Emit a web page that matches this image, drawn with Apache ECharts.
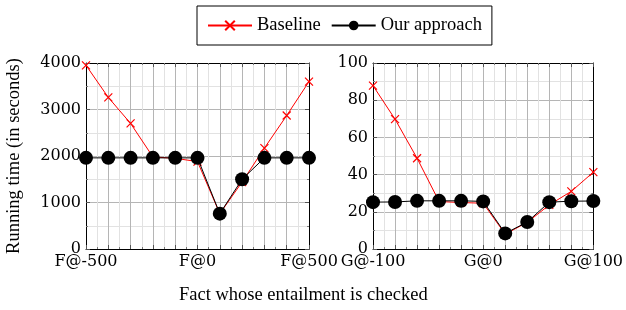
<!DOCTYPE html>
<html><head><meta charset="utf-8">
<script src="https://cdn.jsdelivr.net/npm/echarts@6/dist/echarts.min.js"></script>
<style>html,body{margin:0;padding:0;background:#fff}#c{width:626px;height:310px}</style>
</head><body><div id="c"></div>
<script>
// Left panel (F)
const fX = [-500,-400,-300,-200,-100,0,100,200,300,400,500];
const fBaseline = [3950,3260,2700,1980,1950,1880,760,1440,2170,2870,3600];
const fOurs = [1960,1960,1960,1960,1960,1960,760,1500,1960,1960,1960];
const fTickLabels = [-500,0,500];
// Right panel (G)
const gX = [-100,-80,-60,-40,-20,0,20,40,60,80,100];
const gBaseline = [87.8,69.8,48.8,25.5,25.0,24.6,8.0,14.3,23.7,31.0,41.3];
const gOurs = [25.2,25.3,25.9,25.9,25.9,25.6,8.4,14.5,25.2,25.7,25.8];
const gTickLabels = [-100,0,100];
const seriesNames = ['Baseline','Our approach'];
const yName = 'Running time (in seconds)';
const xName = 'Fact whose entailment is checked';

const tickFont = {fontFamily:'DejaVu Serif', fontSize:16, color:'#000'};
const textFont = 'Liberation Serif';
const majorC = '#b5b5b5', minorC = '#e2e2e2';

function pairs(xs, ys){ return xs.map((x,i)=>[x, ys[i]]); }
const lineBlack = {show:true, onZero:false, lineStyle:{color:'#000', width:1}};

function xAxes(grid, min, max, interval, labels, prefix){
  return [{
    type:'value', gridIndex:grid, min, max, interval, position:'bottom',
    axisLine:lineBlack,
    axisTick:{show:true, inside:true, length:4, lineStyle:{color:'#555'}},
    minorTick:{show:true, splitNumber:2, length:2, lineStyle:{color:'#777'}},
    splitLine:{show:true, lineStyle:{color:majorC, width:1}},
    minorSplitLine:{show:true, lineStyle:{color:minorC, width:1}},
    axisLabel:Object.assign({margin:5, showMinLabel:true, showMaxLabel:true,
      formatter:v=> labels.indexOf(v)>=0 ? prefix+v : ''}, tickFont)
  },{
    type:'value', gridIndex:grid, min, max, interval, position:'top',
    axisLine:lineBlack,
    axisTick:{show:true, inside:true, length:4, lineStyle:{color:'#555'}},
    minorTick:{show:true, splitNumber:2, length:2, lineStyle:{color:'#777'}},
    splitLine:{show:false}, axisLabel:{show:false}
  }];
}
function yAxes(grid, max, interval, name){
  return [{
    type:'value', gridIndex:grid, min:0, max, interval, position:'left',
    name: name || '', nameLocation:'middle', nameGap:62, nameRotate:90,
    nameTextStyle:{fontFamily:textFont, fontSize:18.5, color:'#000'},
    axisLine:lineBlack,
    axisTick:{show:true, inside:true, length:4, lineStyle:{color:'#555'}},
    minorTick:{show:true, splitNumber:2, length:2, lineStyle:{color:'#777'}},
    splitLine:{show:true, lineStyle:{color:majorC, width:1}},
    minorSplitLine:{show:true, lineStyle:{color:minorC, width:1}},
    axisLabel:Object.assign({margin:5, formatter:v=>String(v)}, tickFont)
  },{
    type:'value', gridIndex:grid, min:0, max, interval, position:'right',
    axisLine:lineBlack,
    axisTick:{show:true, inside:true, length:4, lineStyle:{color:'#555'}},
    minorTick:{show:true, splitNumber:2, length:2, lineStyle:{color:'#777'}},
    splitLine:{show:false}, axisLabel:{show:false}
  }];
}
const crossPath = 'path://M0,0L10,10M10,0L0,10';
function baseSeries(xi, yi, data){
  return {name:seriesNames[0], type:'line', xAxisIndex:xi, yAxisIndex:yi, data,
    symbol:crossPath, symbolSize:8, z:3,
    lineStyle:{color:'#ff0000', width:1},
    itemStyle:{color:'#ff0000', borderColor:'#ff0000', borderWidth:1.2},
    animation:false};
}
function oursSeries(xi, yi, data){
  return {name:seriesNames[1], type:'line', xAxisIndex:xi, yAxisIndex:yi, data,
    symbol:'circle', symbolSize:14, z:4,
    lineStyle:{color:'#000', width:1},
    itemStyle:{color:'#000'},
    animation:false};
}
const chart = echarts.init(document.getElementById('c'), null, {renderer:'canvas'});
chart.setOption({
  animation:false,
  backgroundColor:'#fff',
  grid:[{left:86, right:317, top:63, bottom:61},{left:373, right:30, top:63, bottom:61}],
  xAxis:[].concat(xAxes(0,-500,500,100,fTickLabels,'F@'), xAxes(1,-100,100,20,gTickLabels,'G@')),
  yAxis:[].concat(yAxes(0,4000,1000,yName), yAxes(1,100,20,'')),
  legend:{data:seriesNames, top:6, left:197, itemWidth:44, itemHeight:12, itemGap:10,
    borderColor:'#000', borderWidth:1, padding:[10,10,10,10],
    textStyle:{fontFamily:textFont, fontSize:18.5, color:'#000'}},
  graphic:[{type:'text', left:179, top:286, style:{text:xName, font:'18.5px "Liberation Serif"', fill:'#000'}}],
  series:[
    baseSeries(0,0,pairs(fX,fBaseline)), oursSeries(0,0,pairs(fX,fOurs)),
    baseSeries(2,2,pairs(gX,gBaseline)), oursSeries(2,2,pairs(gX,gOurs))
  ]
});
</script></body></html>
